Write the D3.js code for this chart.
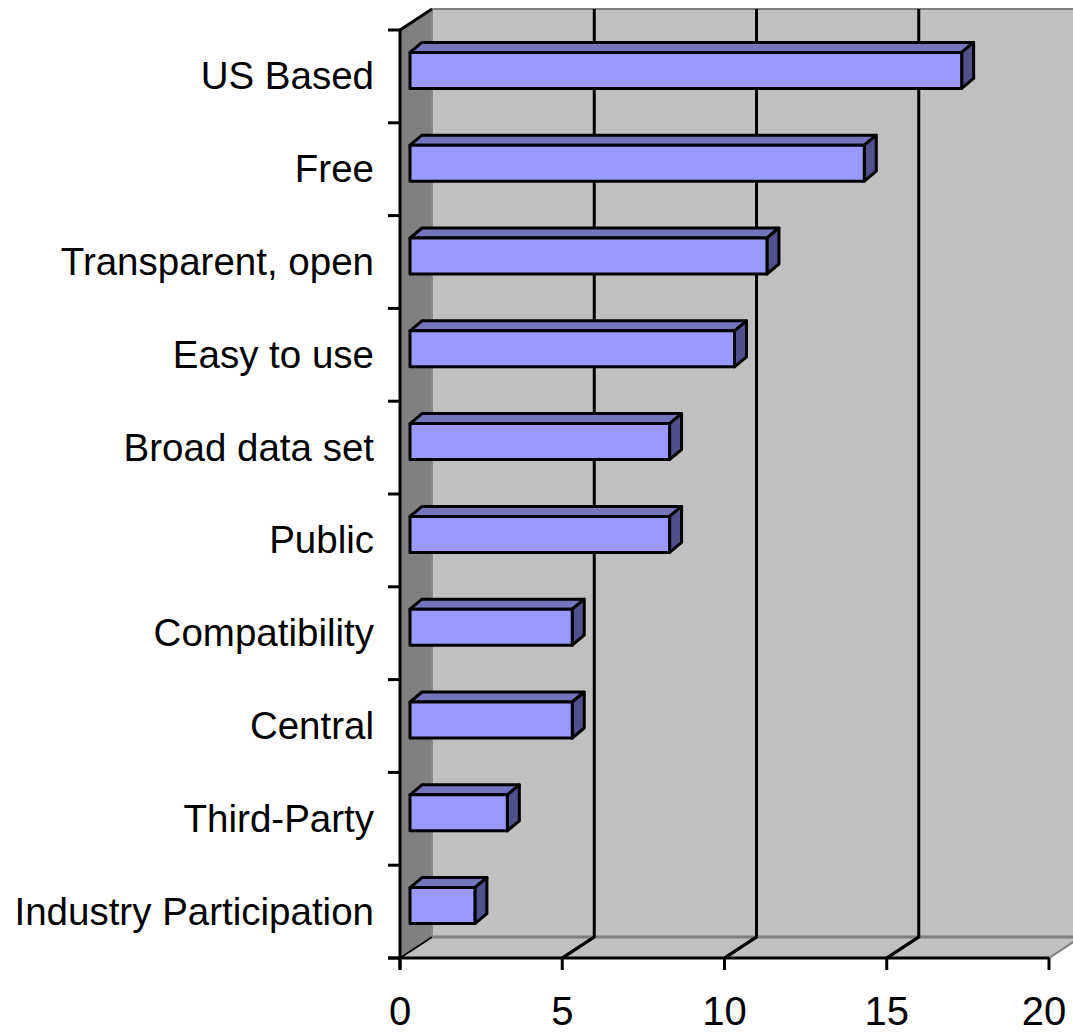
<!DOCTYPE html>
<html><head><meta charset="utf-8">
<script src="https://cdn.jsdelivr.net/npm/d3@7"></script>
<style>html,body{margin:0;padding:0;background:#fff;}svg{display:block;}</style>
</head><body>
<script>
const categories = ["US Based","Free","Transparent, open","Easy to use","Broad data set","Public","Compatibility","Central","Third-Party","Industry Participation"];
const values = [17,14,11,10,8,8,5,5,3,2];
const xTicks = [0,5,10,15,20];

const W = 1073, H = 1034;
const svg = d3.select("body").append("svg").attr("width", W).attr("height", H);

const x = d3.scaleLinear().domain([0,20]).range([400,1049]);
const y = d3.scaleBand().domain(categories).range([30,958]).paddingInner(0).paddingOuter(0);

const DX = 32, DY = -21;           // wall depth
const FX = 10, FY = -6;            // bar front offset
const BX = 22, BY = -16;           // bar back offset
const barH = 36;

const x0 = x(0), x1 = x(20), yTop = y.range()[0], yBot = y.range()[1];
const pts = a => a.map(p => p.join(",")).join(" ");

// back wall
svg.append("polygon")
  .attr("points", pts([[x0+DX, yTop+DY],[x1+DX+20, yTop+DY],[x1+DX+20, yBot+DY],[x0+DX, yBot+DY]]))
  .attr("fill","#C0C0C0").attr("stroke","#808080").attr("stroke-width",2);
// floor
svg.append("polygon")
  .attr("points", pts([[x0, yBot],[x0+DX, yBot+DY],[x1+DX, yBot+DY],[x1, yBot]]))
  .attr("fill","#C0C0C0").attr("stroke","#808080").attr("stroke-width",2);
svg.append("line").attr("x1",x0+DX).attr("x2",W).attr("y1",yBot+DY).attr("y2",yBot+DY)
  .attr("stroke","#808080").attr("stroke-width",3);
// left wall
svg.append("polygon")
  .attr("points", pts([[x0, yTop],[x0+DX, yTop+DY],[x0+DX, yBot+DY],[x0, yBot]]))
  .attr("fill","#808080").attr("stroke","#8c8c8c").attr("stroke-width",1.5);
svg.append("line").attr("x1",x0).attr("y1",yBot).attr("x2",x0+DX).attr("y2",yBot+DY)
  .attr("stroke","#000").attr("stroke-width",1.5);
svg.append("line").attr("x1",x0).attr("y1",yTop).attr("x2",x0+DX).attr("y2",yTop+DY)
  .attr("stroke","#000").attr("stroke-width",3);

// gridlines
xTicks.filter(t => t > 0 && t < 20).forEach(t => {
  svg.append("polyline")
    .attr("points", pts([[x(t)+DX, yTop+DY],[x(t)+DX, yBot+DY],[x(t), yBot]]))
    .attr("fill","none").attr("stroke","#000").attr("stroke-width",3);
});

// bars
const g = svg.append("g");
categories.forEach((c, i) => {
  const v = values[i];
  const yt = y(c) + (y.bandwidth() - barH) / 2, yb = yt + barH;
  const xa = x(0), xb = x(v);
  const stroke = {stroke:"#000", "stroke-width":3, "stroke-linejoin":"round"};
  const top = g.append("polygon").attr("points", pts([[xa+FX, yt+FY],[xa+BX, yt+BY],[xb+BX, yt+BY],[xb+FX, yt+FY]])).attr("fill","#7575BD");
  const side = g.append("polygon").attr("points", pts([[xb+FX, yt+FY],[xb+BX, yt+BY],[xb+BX, yb+BY],[xb+FX, yb+FY]])).attr("fill","#50508A");
  const front = g.append("rect").attr("x", xa+FX).attr("y", yt+FY).attr("width", xb-xa).attr("height", barH).attr("fill","#9999FF");
  [top, side, front].forEach(s => Object.entries(stroke).forEach(([k,val]) => s.attr(k,val)));
});

// axes
svg.append("line").attr("x1",x0).attr("x2",x0).attr("y1",yTop).attr("y2",yBot+12).attr("stroke","#000").attr("stroke-width",3);
svg.append("line").attr("x1",x0-12).attr("x2",x1).attr("y1",yBot).attr("y2",yBot).attr("stroke","#000").attr("stroke-width",3);
const catTicks = categories.map(c => y(c)).concat([yBot]);
catTicks.forEach(t => {
  svg.append("line").attr("x1",x0-12).attr("x2",x0).attr("y1",t).attr("y2",t).attr("stroke","#000").attr("stroke-width",3);
});
xTicks.forEach(t => {
  svg.append("line").attr("x1",x(t)).attr("x2",x(t)).attr("y1",yBot).attr("y2",yBot+12).attr("stroke","#000").attr("stroke-width",3);
  svg.append("line").attr("x1",x(t)).attr("x2",x(t)+DX).attr("y1",yBot).attr("y2",yBot+DY)
    .attr("stroke", t === 0 || t === 20 ? "none" : "#000").attr("stroke-width",3);
  svg.append("text").attr("x", x(t) - (t === 20 ? 5 : 0)).attr("y", 1025)
    .attr("text-anchor","middle").attr("font-family","'Liberation Sans', Arial, sans-serif")
    .attr("font-size", 40).attr("fill","#000").text(t);
});

categories.forEach(c => {
  svg.append("text").attr("x", 374).attr("y", y(c) + y.bandwidth()/2 + 13)
    .attr("text-anchor","end").attr("font-family","'Liberation Sans', Arial, sans-serif")
    .attr("font-size", 38.5).attr("fill","#000").text(c);
});
</script>
</body></html>
